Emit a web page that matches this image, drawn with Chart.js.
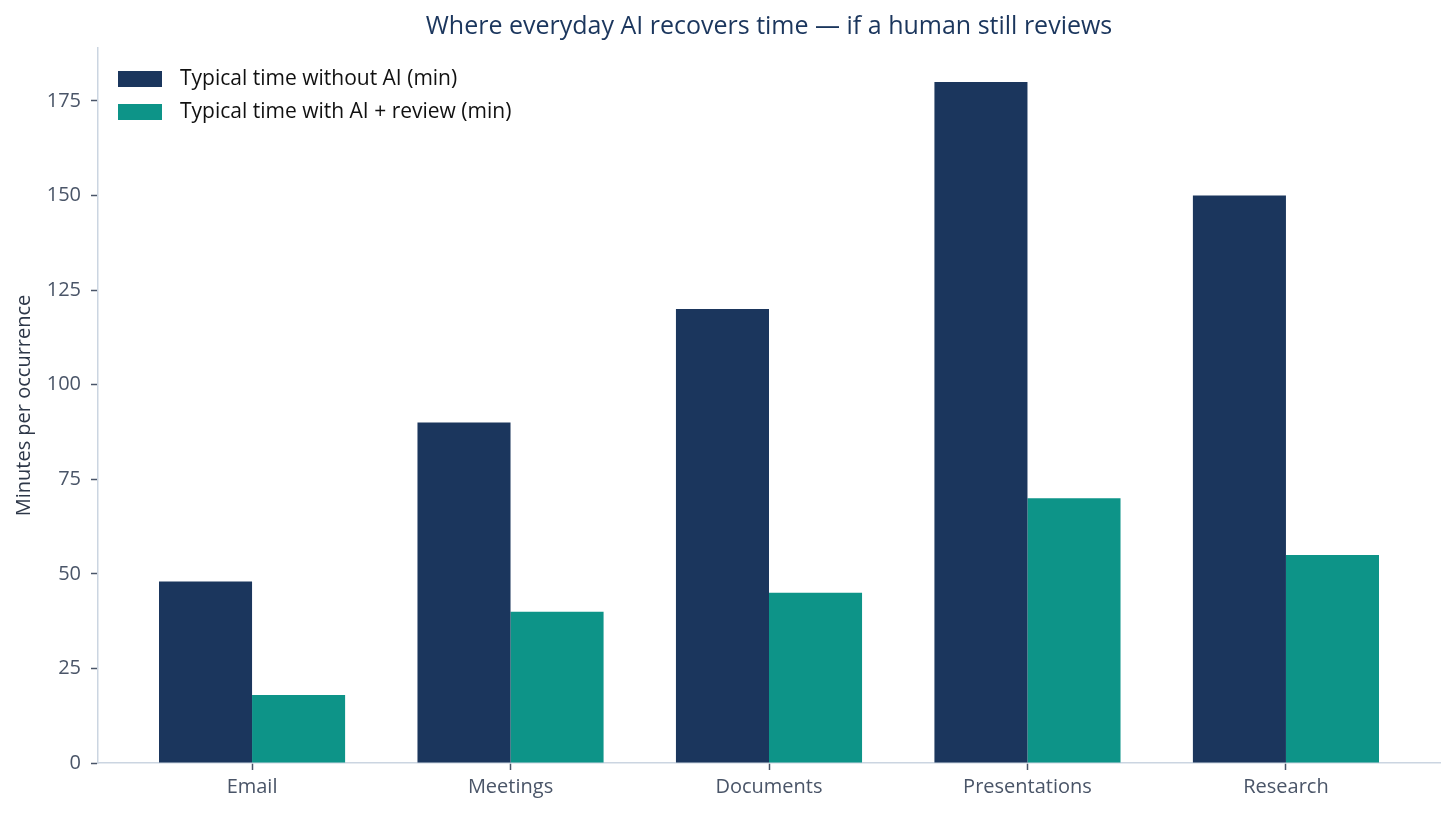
<!DOCTYPE html>
<html>
<head>
<meta charset="utf-8">
<script src="https://cdn.jsdelivr.net/npm/chart.js@4/dist/chart.umd.min.js"></script>
<style>
  html, body { margin: 0; padding: 0; background: #ffffff; }
  #wrap { width: 1455px; height: 815px; }
</style>
</head>
<body>
<div id="wrap"><canvas id="chart"></canvas></div>
<script>
// values
const categories = ['Email', 'Meetings', 'Documents', 'Presentations', 'Research'];
const withoutAI = [48, 90, 120, 180, 150];
const withAIReview = [18, 40, 45, 70, 55];
const yTicks = [0, 25, 50, 75, 100, 125, 150, 175];
const chartTitle = 'Where everyday AI recovers time \u2014 if a human still reviews';

const NAVY = '#1b365d';
const TEAL = '#0d9488';
const FONT = "'Open Sans', 'Noto Sans', sans-serif";

// title centred over the plot area, legend stacked inside top-left
const overlay = {
    id: 'overlay',
    afterDraw: function(chart) {
        const ctx = chart.ctx;
        const area = chart.chartArea;
        ctx.save();
        ctx.font = '25px ' + FONT;
        ctx.fillStyle = NAVY;
        ctx.textAlign = 'center';
        ctx.textBaseline = 'middle';
        ctx.fillText(chartTitle, (area.left + area.right) / 2, 27);

        ctx.font = '21px ' + FONT;
        ctx.textAlign = 'left';
        chart.data.datasets.forEach((ds, i) => {
            const y = area.top + 31 + i * 33;
            ctx.fillStyle = ds.backgroundColor;
            ctx.fillRect(area.left + 20, y - 8, 44, 16);
            ctx.fillStyle = '#111111';
            ctx.fillText(ds.label, area.left + 82, y);
        });
        ctx.restore();
    }
};

const ctx = document.getElementById('chart').getContext('2d');
const chart = new Chart(ctx, {
    type: 'bar',
    data: {
        datasets: [
            {
                label: 'Typical time without AI (min)',
                data: withoutAI.map((v, i) => ({ x: i, y: v })),
                backgroundColor: NAVY,
                borderWidth: 0
            },
            {
                label: 'Typical time with AI + review (min)',
                data: withAIReview.map((v, i) => ({ x: i, y: v })),
                backgroundColor: TEAL,
                borderWidth: 0
            }
        ]
    },
    options: {
        responsive: true,
        maintainAspectRatio: false,
        animation: false,
        categoryPercentage: 0.72,
        barPercentage: 1.0,
        layout: {
            padding: { left: 12, right: 15, top: 48, bottom: 11 }
        },
        scales: {
            x: {
                type: 'linear',
                min: -0.596,
                max: 4.596,
                offset: false,
                afterBuildTicks: function(scale) {
                    scale.ticks = categories.map((c, i) => ({ value: i }));
                },
                ticks: {
                    autoSkip: false,
                    maxRotation: 0,
                    padding: 5,
                    color: '#4a5568',
                    font: { family: FONT, size: 20 },
                    callback: function(value) {
                        return categories[value];
                    }
                },
                grid: {
                    offset: false,
                    drawOnChartArea: false,
                    drawTicks: true,
                    tickLength: 7,
                    tickColor: '#4a5568',
                    tickWidth: 1.5
                },
                border: { color: '#cbd5e1', width: 1.5 }
            },
            y: {
                min: 0,
                max: 189,
                afterBuildTicks: function(scale) {
                    scale.ticks = yTicks.map(v => ({ value: v }));
                },
                afterFit: function(scale) {
                    scale.width = 86;
                },
                ticks: {
                    padding: 10,
                    color: '#4a5568',
                    font: { family: FONT, size: 20 }
                },
                grid: {
                    drawOnChartArea: false,
                    drawTicks: true,
                    tickLength: 7,
                    tickColor: '#4a5568',
                    tickWidth: 1.5
                },
                border: { color: '#cbd5e1', width: 1.5 },
                title: {
                    display: true,
                    text: 'Minutes per occurrence',
                    color: '#2d3748',
                    font: { family: FONT, size: 20 },
                    padding: { top: 0, bottom: 0 }
                }
            }
        },
        plugins: {
            legend: { display: false },
            tooltip: { enabled: false },
            title: { display: false }
        }
    },
    plugins: [overlay]
});
</script>
</body>
</html>
